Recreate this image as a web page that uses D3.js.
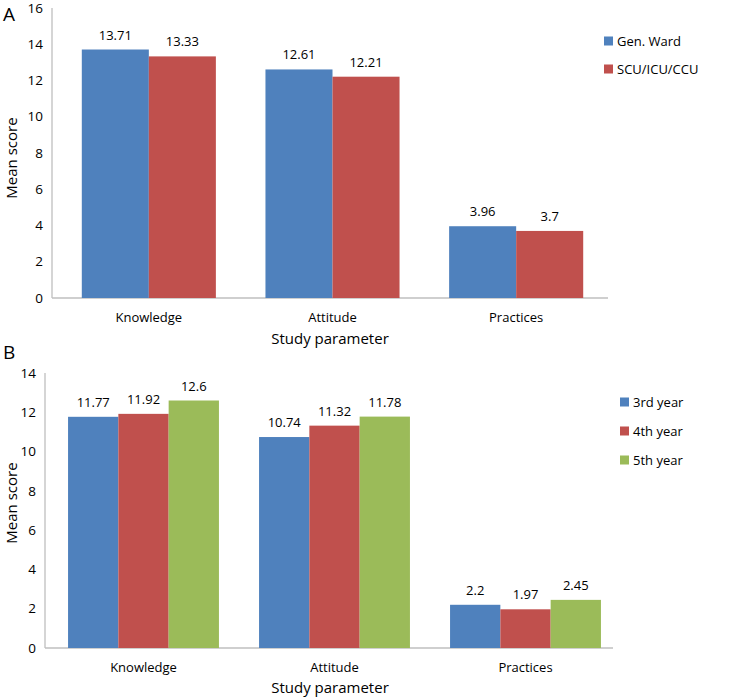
<!DOCTYPE html>
<html><head><meta charset="utf-8">
<script src="https://cdn.jsdelivr.net/npm/d3@7"></script>
<style>body{margin:0;background:#fff}svg{display:block}text{font-family:"Open Sans","Noto Sans",sans-serif;fill:#000}</style>
</head><body><svg id="c" width="739" height="698"></svg>
<script>
const categories = ["Knowledge","Attitude","Practices"];
const seriesA = ["Gen. Ward","SCU/ICU/CCU"];
const valuesA = [[13.71,12.61,3.96],[13.33,12.21,3.7]];
const labelsA = [["13.71","12.61","3.96"],["13.33","12.21","3.7"]];
const ticksA = [0,2,4,6,8,10,12,14,16];
const seriesB = ["3rd year","4th year","5th year"];
const valuesB = [[11.77,10.74,2.2],[11.92,11.32,1.97],[12.6,11.78,2.45]];
const labelsB = [["11.77","10.74","2.2"],["11.92","11.32","1.97"],["12.6","11.78","2.45"]];
const ticksB = [0,2,4,6,8,10,12,14];
const colors = ["#4F81BD","#C0504D","#9BBB59"];

const svg = d3.select("#c");

function panel(cfg){
  const g = svg.append("g");
  const y = d3.scaleLinear().domain([0, cfg.ymax]).range([cfg.y0, cfg.y1]);
  const x = d3.scaleBand().domain(categories).range([cfg.xr0, cfg.xr1]).paddingInner(cfg.pin).paddingOuter(cfg.pout);
  const xs = d3.scaleBand().domain(cfg.series).range([0, x.bandwidth()]);
  g.append("line").attr("x1",cfg.ax).attr("x2",cfg.ax).attr("y1",y(cfg.ymax)).attr("y2",y(0)).attr("stroke","#BFBFBF").attr("stroke-width",1.3);
  g.append("line").attr("x1",cfg.ax).attr("x2",cfg.axEnd).attr("y1",y(0)).attr("y2",y(0)).attr("stroke","#BFBFBF").attr("stroke-width",1.3);
  g.selectAll(".yt").data(cfg.ticks).join("text").attr("x",cfg.ax-9).attr("y",d=>y(d)).attr("dy","0.35em")
    .attr("text-anchor","end").attr("font-size",13.5).text(d=>d);
  cfg.series.forEach((s,si)=>{
    g.selectAll(".b"+si).data(categories).join("rect")
      .attr("x",c=>x(c)+xs(s)).attr("width",xs.bandwidth())
      .attr("y",(c,i)=>y(cfg.values[si][i])).attr("height",(c,i)=>y(0)-y(cfg.values[si][i]))
      .attr("fill",colors[si]);
    g.selectAll(".l"+si).data(categories).join("text")
      .attr("x",c=>x(c)+xs(s)+xs.bandwidth()/2).attr("y",(c,i)=>y(cfg.values[si][i])-10)
      .attr("text-anchor","middle").attr("font-size",13).text((c,i)=>cfg.labels[si][i]);
  });
  g.selectAll(".xl").data(categories).join("text").attr("x",c=>x(c)+x.bandwidth()/2).attr("y",cfg.catY)
    .attr("text-anchor","middle").attr("font-size",13).text(d=>d);
  g.append("text").attr("x",cfg.titleX).attr("y",cfg.titleY).attr("text-anchor","middle").attr("font-size",15).text("Study parameter");
  g.append("text").attr("transform",`translate(${cfg.ylabX},${cfg.ylabY}) rotate(-90)`).attr("text-anchor","middle").attr("font-size",15).text("Mean score");
  g.append("text").attr("x",cfg.letterX).attr("y",cfg.letterY).attr("font-size",19).text(cfg.letter);
  cfg.series.forEach((s,si)=>{
    const ly = cfg.legY + si*cfg.legStep;
    g.append("rect").attr("x",cfg.legX).attr("y",ly-4.5).attr("width",9).attr("height",9).attr("fill",colors[si]);
    g.append("text").attr("x",cfg.legX+13).attr("y",ly).attr("dy","0.35em").attr("font-size",13).text(s);
  });
}

panel({ymax:16, y0:298, y1:8, xr0:57, xr1:608, pin:0.27, pout:0.135, ax:52, axEnd:608,
  ticks:ticksA, series:seriesA, values:valuesA, labels:labelsA,
  catY:322, titleX:330, titleY:344, ylabX:17, ylabY:158, letter:"A", letterX:3, letterY:21,
  legX:604, legY:41, legStep:28});
panel({ymax:14, y0:648, y1:373, xr0:48, xr1:621, pin:0.21, pout:0.105, ax:45, axEnd:613,
  ticks:ticksB, series:seriesB, values:valuesB, labels:labelsB,
  catY:672, titleX:330, titleY:693, ylabX:17, ylabY:503, letter:"B", letterX:3, letterY:359,
  legX:620, legY:402, legStep:29});
</script></body></html>
